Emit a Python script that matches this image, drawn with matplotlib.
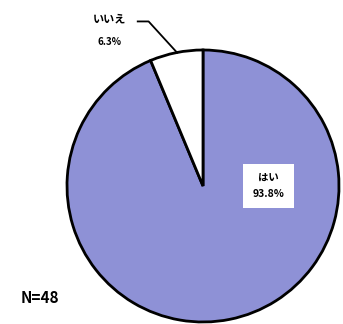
import matplotlib
matplotlib.use('Agg')
import matplotlib.pyplot as plt

plt.rcParams['font.family'] = ['Noto Sans CJK JP', 'DejaVu Sans']

labels = ['はい', 'いいえ']
shares = [93.8, 6.3]
colors = ['#8e91d6', 'white']
n_total = 48

W, H = 343, 324
cx, cy, r = 203, 186, 136

fig = plt.figure(figsize=(W / 100, H / 100), dpi=100)
ax = fig.add_axes([(cx - r) / W, (H - cy - r) / H, 2 * r / W, 2 * r / H])
ax.pie(shares, colors=colors, startangle=90, counterclock=False, radius=1,
       wedgeprops=dict(edgecolor='black', linewidth=2))
ax.set_xlim(-1, 1)
ax.set_ylim(-1, 1)
ax.set_aspect('equal')
ax.axis('off')

# label inside the large slice
ax.text(0.48, 0.0, f'{labels[0]}\n{shares[0]:.1f}%', ha='center', va='center',
        fontsize=7.5, fontweight='bold', linespacing=1.7,
        bbox=dict(boxstyle='square,pad=0.9', facecolor='white', edgecolor='none'))

# label outside the small slice with a leader line
ax.text(-0.69, 1.225, labels[1], ha='center', va='center', fontsize=8, fontweight='bold')
ax.text(-0.69, 1.06, f'{shares[1]:.1f}%', ha='center', va='center', fontsize=7, fontweight='bold')
ax.plot([-0.48, -0.40, -0.19], [1.21, 1.21, 0.98], color='black', lw=1.3, clip_on=False)

fig.text(40 / W, 1 - 298 / H, f'N={n_total}', ha='center', va='center', fontsize=11, fontweight='bold')

fig.savefig('out.png', dpi=100)
